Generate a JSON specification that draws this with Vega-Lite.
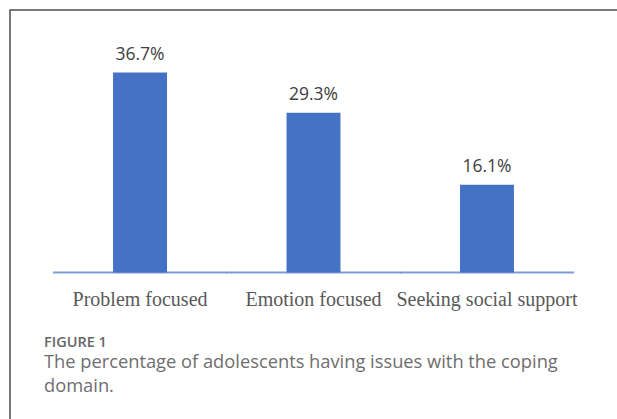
{
  "$schema": "https://vega.github.io/schema/vega-lite/v6.json",
  "width": 607,
  "height": 409,
  "autosize": "none",
  "padding": {"left": 10, "top": 10, "right": 0, "bottom": 0},
  "background": "white",
  "data": {
    "values": [
      {"domain": "Problem focused", "pct": 36.7, "label": "36.7%"},
      {"domain": "Emotion focused", "pct": 29.3, "label": "29.3%"},
      {"domain": "Seeking social support", "pct": 16.1, "label": "16.1%"}
    ]
  },
  "title": {
    "text": "FIGURE 1",
    "subtitle": ["The percentage of adolescents having issues with the coping", "domain."],
    "orient": "bottom",
    "anchor": "start",
    "frame": "group",
    "offset": -83,
    "dx": 34,
    "font": "Open Sans",
    "fontSize": 14.5,
    "fontWeight": 600,
    "color": "#666666",
    "subtitleFont": "Open Sans",
    "subtitleFontSize": 18.3,
    "subtitleColor": "#6e6e6e",
    "subtitleLineHeight": 24.6,
    "subtitlePadding": 3
  },
  "encoding": {
    "x": {
      "field": "domain",
      "type": "nominal",
      "sort": null,
      "scale": {"paddingInner": 0.689, "paddingOuter": 0.594},
      "axis": {
        "title": null,
        "offset": -146.5,
        "domain": false,
        "ticks": false,
        "tickSize": 0,
        "labelPadding": 16.5,
        "labelAngle": 0,
        "labelFont": "Liberation Serif",
        "labelFontSize": 20,
        "labelColor": "#595959",
        "labelLimit": 0
      }
    }
  },
  "layer": [
    {
      "mark": {"type": "bar", "color": "#4472C4"},
      "encoding": {
        "y": {
          "field": "pct",
          "type": "quantitative",
          "scale": {"domain": [-26.88, 48.165], "nice": false, "zero": false},
          "axis": null
        }
      }
    },
    {
      "mark": {"type": "tick", "color": "#4472C4", "size": 174, "thickness": 2},
      "encoding": {
        "y": {"datum": 0, "type": "quantitative"}
      }
    },
    {
      "mark": {
        "type": "text",
        "baseline": "alphabetic",
        "dy": -12.5,
        "font": "Open Sans",
        "fontSize": 17.5,
        "color": "#404040"
      },
      "encoding": {
        "y": {"field": "pct", "type": "quantitative"},
        "text": {"field": "label", "type": "nominal"}
      }
    }
  ],
  "config": {
    "view": {
      "stroke": "#4d4d4d",
      "strokeWidth": 1.5,
      "strokeDash": [607, 1016, 409],
      "fill": "white"
    }
  }
}
